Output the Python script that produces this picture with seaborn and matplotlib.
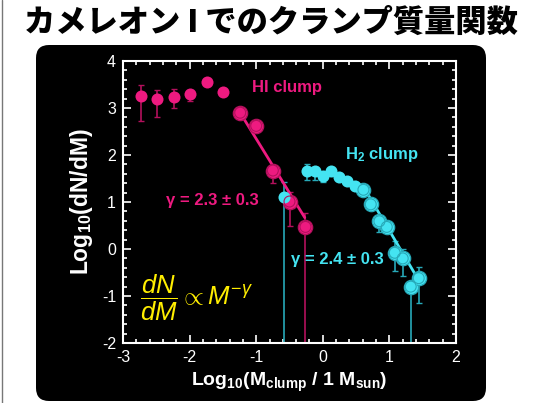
import numpy as np
import pandas as pd
import matplotlib
matplotlib.use("Agg")
import matplotlib.pyplot as plt
import seaborn as sns
from matplotlib.patches import FancyBboxPatch
from matplotlib.lines import Line2D
from matplotlib.ticker import MultipleLocator

# ---- data ----
# HI clumps: log10 mass, log10 dN/dM, error-bar bounds (nan = none)
hi_x = [-2.73, -2.49, -2.23, -1.99, -1.74, -1.50, -1.24, -1.00, -0.75, -0.50, -0.26]
hi_y = [3.26, 3.19, 3.24, 3.29, 3.56, 3.35, 2.90, 2.62, 1.67, 1.01, 0.47]
hi_lo = [2.72, 2.81, 3.01, 3.15, np.nan, np.nan, np.nan, np.nan, 1.41, 0.49, -2.0]
hi_hi = [3.49, 3.38, 3.40, 3.38, np.nan, np.nan, np.nan, np.nan, 1.67, 1.22, 0.77]
hi_fit = [False] * 6 + [True] * 5

# H2 clumps
h2_x = [-0.59, -0.23, -0.11, 0.01, 0.13, 0.25, 0.37, 0.49, 0.61, 0.72, 0.85, 0.96, 1.08, 1.20, 1.32, 1.44]
h2_y = [1.11, 1.67, 1.65, 1.56, 1.65, 1.54, 1.45, 1.35, 1.26, 0.95, 0.59, 0.47, -0.08, -0.20, -0.80, -0.62]
h2_lo = [-2.0, 1.47, 1.47, 1.43, np.nan, np.nan, np.nan, np.nan, np.nan, np.nan, 0.37, np.nan, -0.46, -0.57, -2.0, -1.14]
h2_hi = [1.42, 1.80, 1.75, 1.64, np.nan, np.nan, np.nan, np.nan, np.nan, np.nan, 0.59, np.nan, 0.16, -0.01, -0.80, -0.38]
h2_fit = [False] * 8 + [True] * 8

# power-law fits: slope = -gamma
hi_gamma, hi_fit_x, hi_anchor = 2.3, [-1.25, -0.27], (-1.25, 2.92)
h2_gamma, h2_fit_x, h2_anchor = 2.4, [0.60, 1.45], (1.025, 0.33)

x_ticks = [-3, -2, -1, 0, 1, 2]
y_ticks = [-2, -1, 0, 1, 2, 3, 4]

PINK = "#ee1a80"
PINK_DARK = "#b3105c"
CYAN = "#44e4f2"
CYAN_DARK = "#27a9b8"

sns.set_style("dark", {"axes.facecolor": "black"})
plt.rcParams["font.family"] = ["Liberation Sans", "DejaVu Sans"]
plt.rcParams["mathtext.fontset"] = "custom"
plt.rcParams["mathtext.rm"] = "Liberation Sans"
plt.rcParams["mathtext.it"] = "Liberation Sans:italic"
plt.rcParams["mathtext.bf"] = "Liberation Sans:bold"
plt.rcParams["axes.unicode_minus"] = False

fig = plt.figure(figsize=(5.39, 4.03), dpi=100)
fig.patch.set_facecolor("white")

# slide panel and left edge line
panel = FancyBboxPatch((0.36, 0.02), 4.50, 3.56,
                       boxstyle="round,pad=0,rounding_size=0.13",
                       transform=fig.dpi_scale_trans, facecolor="black",
                       edgecolor="none", zorder=-5)
fig.patches.append(panel)
fig.add_artist(Line2D([0.02, 0.02], [0.0, 4.03], transform=fig.dpi_scale_trans,
                      color="#777777", lw=1.0, zorder=-5))

fig.text(0.502, 0.945, "カメレオン I でのクランプ質量関数",
         family=["Noto Sans CJK JP", "DejaVu Sans"], fontweight="black",
         fontsize=22.5, ha="center", va="center", color="black")

ax = fig.add_axes([123 / 539, 1 - 343 / 403, (456 - 123) / 539, (343 - 61) / 403])
ax.set_zorder(1)
ax.set_facecolor("black")
ax.grid(False)


def draw_series(xs, ys, lo, hi, fit, color, dark):
    df = pd.DataFrame({"x": xs, "y": ys, "lo": lo, "hi": hi, "fit": fit})
    eb = df.dropna(subset=["lo"])
    ax.errorbar(eb["x"], eb["y"],
                yerr=[eb["y"] - eb["lo"], eb["hi"] - eb["y"]],
                fmt="none", ecolor=dark, elinewidth=1.2, capsize=2.2,
                capthick=1.0, zorder=2)
    fitted = df[df["fit"]]
    sns.scatterplot(data=fitted, x="x", y="y", ax=ax, s=105, color=color,
                    edgecolor=dark, linewidth=1.0, zorder=3, legend=False)
    sns.scatterplot(data=df, x="x", y="y", ax=ax, s=75, color=color,
                    linewidth=0.0, zorder=4, legend=False)
    sns.scatterplot(data=fitted, x="x", y="y", ax=ax, s=62, facecolor="none",
                    edgecolor=dark, linewidth=0.8, zorder=5, legend=False)


draw_series(hi_x, hi_y, hi_lo, hi_hi, hi_fit, PINK, PINK_DARK)
draw_series(h2_x, h2_y, h2_lo, h2_hi, h2_fit, CYAN, CYAN_DARK)


def fit_line(xr, gamma, anchor, color):
    x0, y0 = anchor
    xs = np.array(xr)
    ys = y0 - gamma * (xs - x0)
    sns.lineplot(x=xs, y=ys, ax=ax, color=color, lw=2.0, zorder=2.5)


fit_line(hi_fit_x, hi_gamma, hi_anchor, PINK)
fit_line(h2_fit_x, h2_gamma, h2_anchor, CYAN)

ax.text(-1.06, 3.43, "HI clump", color=PINK, fontsize=12, fontweight="bold",
        va="center", ha="left")
ax.text(0.33, 2.0, r"H$_{\mathbf{2}}$ clump", color=CYAN, fontsize=12,
        fontweight="bold", va="center", ha="left")
ax.text(-2.35, 1.03, f"γ = {hi_gamma} ± 0.3", color=PINK, fontsize=12,
        fontweight="bold", va="center", ha="left")
ax.text(-0.48, -0.23, f"γ = {h2_gamma} ± 0.3", color=CYAN, fontsize=12,
        fontweight="bold", va="center", ha="left")
ax.text(-2.74, -1.04, r"$\dfrac{dN}{dM}\propto M^{-\gamma}$", color="#ffee00",
        fontsize=18.5, va="center", ha="left")

ax.set_xlim(-3, 2)
ax.set_ylim(-2, 4)
ax.set_xticks(x_ticks)
ax.set_yticks(y_ticks)
ax.xaxis.set_minor_locator(MultipleLocator(0.2))
ax.yaxis.set_minor_locator(MultipleLocator(0.2))
ax.tick_params(which="both", direction="in", colors="white", top=True,
               right=True, bottom=True, left=True, labelsize=11.5,
               labelcolor="white", width=1.2, pad=5)
ax.tick_params(which="major", length=6)
ax.tick_params(which="minor", length=3)
for sp in ax.spines.values():
    sp.set_color("white")
    sp.set_linewidth(1.5)
    sp.set_visible(True)

ax.set_xlabel(r"Log$_{\mathbf{10}}$(M$_{\mathbf{clump}}$ / 1 M$_{\mathbf{sun}}$)",
              color="white", fontsize=14, fontweight="bold", labelpad=4)
ax.set_ylabel(r"Log$_{\mathbf{10}}$(dN/dM)", color="white", fontsize=16.5,
              fontweight="bold", labelpad=5)

fig.savefig("out.png", dpi=100, facecolor="white")
